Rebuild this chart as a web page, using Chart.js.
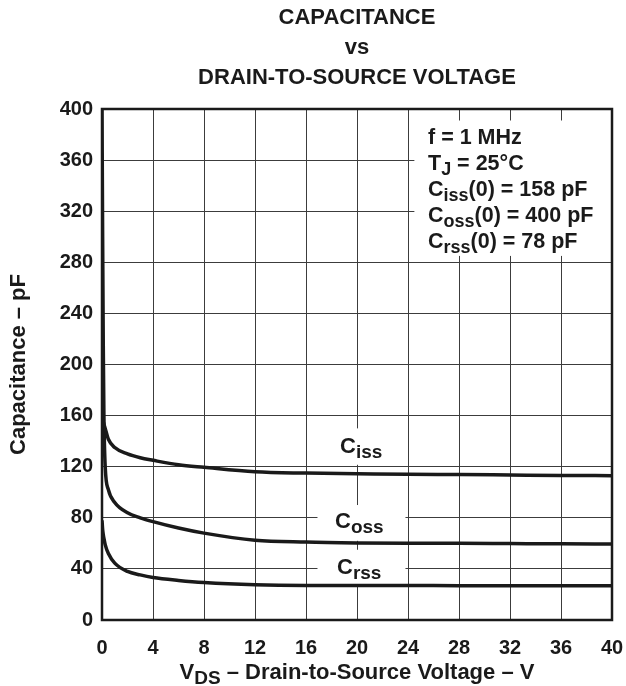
<!DOCTYPE html>
<html lang="en">
<head>
<meta charset="UTF-8">
<title>Capacitance vs Drain-to-Source Voltage</title>
<script src="https://cdn.jsdelivr.net/npm/chart.js"></script>
<style>
  html, body { margin: 0; padding: 0; background: #fff; }
  #wrap { width: 626px; height: 686px; }
</style>
</head>
<body>
<div id="wrap"><canvas id="capChart" width="626" height="686"></canvas></div>

<script>
    // drain-to-source voltage points (V)
    const vds  = [0, 0.05, 0.1, 0.15, 0.25, 0.5, 1, 2, 3, 4, 6, 8, 12, 16, 20, 24, 28, 32, 36, 40];
    // capacitances (pF)
    const ciss = [158, 156.5, 155, 153.5, 150, 141.5, 135, 130, 127, 125, 121.5, 119.5, 116, 115, 114.5, 114, 113.8, 113.5, 113.2, 113];
    const coss = [400, 300, 215, 160, 120, 102, 92, 84, 80, 77, 72, 68, 62.5, 61, 60.3, 60, 60, 59.8, 59.6, 59.5];
    const crss = [78, 71, 67, 64, 59, 52, 44.5, 38, 35.3, 33.3, 31, 29.3, 27.5, 27, 27, 27, 26.9, 26.9, 26.8, 26.8];

    const xTicks = [0, 4, 8, 12, 16, 20, 24, 28, 32, 36, 40];
    const yTicks = [0, 40, 80, 120, 160, 200, 240, 280, 320, 360, 400];

    const titleLines = ['CAPACITANCE', 'vs', 'DRAIN-TO-SOURCE VOLTAGE'];
    const notes = [
        [['f = 1 MHz']],
        [['T'], ['J', 1], [' = 25\u00B0C']],
        [['C'], ['iss', 1], ['(0) = 158 pF']],
        [['C'], ['oss', 1], ['(0) = 400 pF']],
        [['C'], ['rss', 1], ['(0) = 78 pF']]
    ];

    const FONT = "'Liberation Sans', Arial, Helvetica, sans-serif";
    const INK = '#1a1a1a';

    function toPts(ys) {
        return vds.map((v, i) => ({ x: v, y: ys[i] }));
    }

    // text made of [text, isSub] parts
    function richWidth(ctx, parts, size) {
        let w = 0;
        parts.forEach(p => {
            ctx.font = 'bold ' + (p[1] ? Math.round(size * 0.85) : size) + 'px ' + FONT;
            w += ctx.measureText(p[0]).width;
        });
        return w;
    }
    function drawRich(ctx, parts, x, y, size, align) {
        if (align === 'center') x -= richWidth(ctx, parts, size) / 2;
        ctx.textAlign = 'left';
        ctx.textBaseline = 'alphabetic';
        parts.forEach(p => {
            const s = p[1] ? Math.round(size * 0.85) : size;
            ctx.font = 'bold ' + s + 'px ' + FONT;
            ctx.fillText(p[0], x, p[1] ? y + 5 : y);
            x += ctx.measureText(p[0]).width;
        });
    }

    const decorPlugin = {
        id: 'decor',
        beforeDatasetsDraw(chart) {
            const ctx = chart.ctx;
            const xs = chart.scales.x, ys = chart.scales.y;
            ctx.save();
            ctx.fillStyle = '#fff';
            // white boxes behind the curve labels and the notes
            const l = xs.getPixelForValue(16.9), r = xs.getPixelForValue(23.8);
            ctx.fillRect(l, ys.getPixelForValue(150), r - l, ys.getPixelForValue(121.5) - ys.getPixelForValue(150));
            ctx.fillRect(l, ys.getPixelForValue(90), r - l, ys.getPixelForValue(62) - ys.getPixelForValue(90));
            ctx.fillRect(l, ys.getPixelForValue(55), r - l, ys.getPixelForValue(27.5) - ys.getPixelForValue(55));
            const nl = xs.getPixelForValue(24.5);
            ctx.fillRect(nl, ys.getPixelForValue(391), chart.chartArea.right - nl, ys.getPixelForValue(285) - ys.getPixelForValue(391));
            ctx.restore();
        },
        afterDatasetsDraw(chart) {
            const ctx = chart.ctx;
            const a = chart.chartArea;
            ctx.save();
            ctx.fillStyle = INK;
            // curve labels
            drawRich(ctx, [['C'], ['iss', 1]], 340, 453, 22, 'left');
            drawRich(ctx, [['C'], ['oss', 1]], 335, 528, 22, 'left');
            drawRich(ctx, [['C'], ['rss', 1]], 337, 574, 22, 'left');
            // test conditions
            notes.forEach((n, i) => drawRich(ctx, n, 428, 144 + i * 26, 21.5, 'left'));
            // frame
            ctx.strokeStyle = INK;
            ctx.lineWidth = 2.5;
            ctx.strokeRect(a.left, a.top, a.right - a.left, a.bottom - a.top);
            // titles
            const cx = (a.left + a.right) / 2;
            ctx.textBaseline = 'alphabetic';
            ctx.textAlign = 'center';
            ctx.font = 'bold 22px ' + FONT;
            titleLines.forEach((t, i) => { ctx.textAlign = 'center'; ctx.fillText(t, cx, 24 + i * 30); });
            drawRich(ctx, [['V'], ['DS', 1], [' \u2013 Drain-to-Source Voltage \u2013 V']], cx, 679, 22, 'center');
            ctx.translate(19, (a.top + a.bottom) / 2);
            ctx.rotate(-Math.PI / 2);
            ctx.textAlign = 'center';
            ctx.textBaseline = 'middle';
            ctx.font = 'bold 22px ' + FONT;
            ctx.fillText('Capacitance \u2013 pF', 0, 0);
            ctx.restore();
        }
    };

    const lineStyle = {
        borderColor: INK,
        borderWidth: 3.5,
        pointRadius: 0,
        cubicInterpolationMode: 'monotone',
        fill: false
    };

    new Chart(document.getElementById('capChart'), {
        type: 'line',
        data: {
            datasets: [
                Object.assign({ label: 'Ciss', data: toPts(ciss) }, lineStyle),
                Object.assign({ label: 'Coss', data: toPts(coss) }, lineStyle),
                Object.assign({ label: 'Crss', data: toPts(crss) }, lineStyle)
            ]
        },
        options: {
            responsive: false,
            animation: false,
            events: [],
            layout: { padding: { top: 109, right: 14, left: 0, bottom: 0 } },
            plugins: { legend: { display: false }, tooltip: { enabled: false } },
            scales: {
                x: {
                    type: 'linear',
                    min: 0, max: 40,
                    afterFit: s => { s.height = 66; s.paddingLeft = 0; s.paddingRight = 0; },
                    afterBuildTicks: s => { s.ticks = xTicks.map(v => ({ value: v })); },
                    grid: { color: '#3c3c3c', lineWidth: 1, drawTicks: false },
                    border: { display: false },
                    ticks: { color: INK, padding: 16, maxRotation: 0, font: { family: FONT, weight: 'bold', size: 20 } }
                },
                y: {
                    type: 'linear',
                    min: 0, max: 400,
                    afterFit: s => { s.width = 102; s.paddingTop = 0; s.paddingBottom = 0; },
                    afterBuildTicks: s => { s.ticks = yTicks.map(v => ({ value: v })); },
                    grid: { color: '#3c3c3c', lineWidth: 1, drawTicks: false },
                    border: { display: false },
                    ticks: { color: INK, padding: 9, font: { family: FONT, weight: 'bold', size: 20 } }
                }
            }
        },
        plugins: [decorPlugin]
    });
</script>
</body>
</html>
